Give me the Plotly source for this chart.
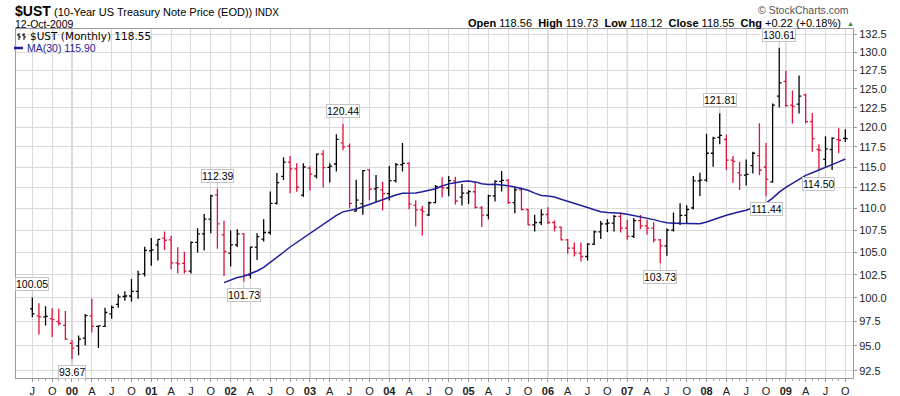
import math
import pandas as pd
import plotly.graph_objects as go

# ---------------- data (monthly OHLC, Jul 1999 .. Oct 2009) ----------------
start_month = "1999-07"
opens = [98.84, 98.10, 98.00, 97.80, 97.50, 97.10, 95.27, 95.00, 95.80, 98.10,
         97.00, 97.00, 98.30, 99.30, 100.15, 100.20, 100.70, 102.60, 105.15, 105.83,
         106.60, 106.40, 103.80, 103.75, 102.90, 106.10, 107.08, 108.77, 111.63, 106.97,
         104.89, 105.83, 107.08, 102.46, 105.57, 106.47, 107.23, 110.63, 113.85, 115.60,
         114.76, 111.60, 114.85, 113.90, 116.60, 114.96, 115.37, 118.00, 117.60, 109.70,
         110.60, 114.64, 112.35, 112.22, 111.77, 113.35, 115.30, 115.45, 110.38, 109.85,
         109.27, 110.70, 112.62, 112.45, 113.30, 111.35, 111.83, 112.00, 110.10, 109.23,
         111.50, 113.24, 113.37, 110.70, 112.22, 109.90, 108.10, 108.38, 109.31, 108.38,
         107.85, 106.40, 105.45, 104.89, 104.52, 105.90, 107.30, 108.22, 108.30, 109.10,
         107.73, 106.79, 108.60, 108.00, 107.73, 106.40, 105.70, 107.50, 108.30, 109.20,
         110.10, 113.30, 113.40, 116.70, 118.70, 118.43, 115.86, 114.30, 114.00, 115.16,
         116.40, 115.00, 113.20, 124.05, 126.00, 122.86, 122.99, 124.20, 120.70, 117.17,
         115.95, 117.17, 118.40, 118.56]
highs = [100.05, 99.44, 99.10, 98.90, 98.85, 98.60, 95.60, 96.05, 98.30, 99.93,
         97.10, 98.94, 99.20, 100.40, 100.70, 102.04, 102.95, 105.60, 106.60, 106.45,
         107.35, 106.85, 105.55, 105.05, 106.20, 107.73, 109.38, 111.63, 112.39, 108.58,
         107.46, 107.60, 107.15, 105.64, 107.15, 108.77, 112.02, 114.28, 116.20, 116.36,
         115.45, 115.45, 115.10, 116.68, 117.07, 115.45, 119.10, 120.44, 117.92, 113.43,
         114.64, 114.72, 114.03, 113.19, 115.12, 115.50, 117.99, 115.60, 111.00, 110.30,
         110.81, 112.82, 113.75, 113.91, 113.80, 112.94, 112.22, 113.20, 110.30, 111.63,
         113.37, 114.52, 113.50, 112.54, 112.54, 110.00, 109.27, 109.92, 110.16, 108.60,
         107.92, 106.50, 106.10, 106.10, 106.02, 107.46, 108.56, 108.76, 109.25, 109.55,
         108.69, 108.90, 109.25, 108.69, 108.40, 106.50, 107.70, 109.54, 110.63, 110.40,
         113.90, 114.30, 119.15, 118.77, 121.81, 119.07, 116.35, 115.66, 115.94, 116.90,
         120.50, 118.00, 123.08, 130.61, 127.45, 124.78, 126.80, 124.35, 121.83, 117.84,
         118.85, 118.70, 119.85, 119.73]
lows = [97.96, 96.17, 97.10, 95.90, 97.10, 95.60, 93.67, 94.05, 95.03, 96.37,
        94.80, 96.95, 97.80, 98.95, 99.70, 99.60, 99.90, 102.30, 103.50, 104.07,
        105.26, 103.10, 102.65, 102.65, 102.65, 104.96, 105.19, 107.15, 105.38, 102.36,
        103.40, 105.57, 101.73, 102.10, 104.14, 106.20, 106.97, 110.50, 113.40, 111.82,
        112.00, 111.40, 112.14, 113.60, 112.50, 113.10, 114.44, 117.09, 110.04, 109.65,
        109.27, 111.00, 110.81, 109.77, 110.95, 113.10, 114.44, 109.92, 107.92, 106.90,
        109.15, 110.62, 111.34, 111.45, 110.50, 110.36, 110.55, 110.00, 107.85, 108.75,
        110.83, 112.02, 110.55, 109.46, 109.80, 108.07, 107.35, 108.10, 108.22, 107.35,
        106.33, 104.82, 104.52, 103.96, 104.07, 105.80, 106.48, 107.30, 107.35, 107.24,
        106.40, 106.60, 107.60, 106.97, 106.10, 103.73, 104.60, 107.35, 108.10, 108.30,
        109.90, 111.50, 113.20, 115.04, 117.84, 114.64, 113.07, 112.22, 112.74, 114.20,
        114.00, 111.44, 113.07, 122.55, 122.63, 120.47, 121.77, 120.50, 116.90, 114.50,
        115.04, 114.63, 116.70, 118.12]
closes = [98.30, 98.00, 98.05, 97.70, 97.30, 95.70, 94.77, 95.70, 98.13, 97.02,
          97.05, 98.45, 99.00, 100.10, 100.20, 100.70, 102.55, 105.20, 105.25, 106.45,
          106.35, 103.80, 103.70, 102.90, 106.10, 107.08, 108.77, 111.51, 108.23, 105.08,
          105.83, 107.08, 102.46, 105.57, 106.77, 107.23, 110.63, 113.10, 115.60, 114.76,
          112.54, 115.00, 114.14, 116.60, 114.92, 115.12, 118.45, 117.50, 110.63, 111.00,
          114.56, 112.30, 112.50, 111.77, 113.35, 115.30, 115.45, 110.54, 109.85, 109.65,
          110.69, 112.62, 112.45, 113.35, 110.90, 111.83, 112.02, 110.15, 109.23, 111.51,
          113.24, 113.37, 110.70, 112.22, 109.90, 108.10, 108.38, 109.31, 108.38, 107.85,
          106.40, 105.45, 104.89, 104.52, 105.90, 107.30, 108.22, 108.30, 109.10, 107.73,
          106.79, 108.60, 108.00, 107.73, 106.40, 105.70, 107.50, 108.30, 109.20, 109.90,
          113.30, 113.40, 116.70, 118.60, 118.95, 115.86, 115.70, 114.00, 114.10, 116.70,
          114.60, 113.50, 122.86, 125.80, 122.80, 122.70, 124.05, 120.70, 118.55, 117.10,
          117.26, 118.56, 118.33, 118.55]
label_high_idx = [0, 28, 47, 104, 113]
label_low_idx = [6, 32, 95, 111, 119]
ytick_values = [92.5, 95.0, 97.5, 100.0, 102.5, 105.0, 107.5, 110.0, 112.5,
                115.0, 117.5, 120.0, 122.5, 125.0, 127.5, 130.0, 132.5]
quarter_letters = {4: "A", 7: "J", 10: "O"}

# ---------------- derived ----------------
months = pd.period_range(start_month, periods=len(closes), freq="M")
xi = list(range(len(closes)))
up = [True] + [closes[i] >= closes[i - 1] for i in range(1, len(closes))]
ma30 = pd.Series(closes).rolling(30).mean()

tickvals, ticktext, year_pos = [], [], []
for i, p in enumerate(months):
    if p.month in (1, 4, 7, 10):
        tickvals.append(i)
        if p.month == 1:
            ticktext.append(f"<b>{p.year % 100:02d}</b>")
            year_pos.append(i)
        else:
            ticktext.append(quarter_letters[p.month])

BLACK = "#000000"
RED = "#dc143c"
NAVY = "#1e1e9a"
FONT = "Liberation Sans, Arial, sans-serif"

fig = go.Figure()
for flag, col in ((True, BLACK), (False, RED)):
    idx = [i for i in xi if up[i] == flag]
    fig.add_trace(go.Ohlc(
        x=idx,
        open=[opens[i] for i in idx], high=[highs[i] for i in idx],
        low=[lows[i] for i in idx], close=[closes[i] for i in idx],
        increasing=dict(line=dict(color=col, width=1.3)),
        decreasing=dict(line=dict(color=col, width=1.3)),
        tickwidth=0.35, showlegend=False, hoverinfo="skip"))

fig.add_trace(go.Scatter(x=xi, y=ma30, mode="lines",
                         line=dict(color=NAVY, width=1.5),
                         showlegend=False, hoverinfo="skip"))

# plot-area pixel helpers (for header / legend text placement)
PL, PR, PT, PB = 16, 853, 29, 378
def px(x):
    return (x - PL) / (PR - PL)
def py(y):
    return (PB - y) / (PB - PT)

ann = []
def text(x, y, s, size=11, color="#000", family=FONT, anchor="left"):
    ann.append(dict(xref="paper", yref="paper", x=px(x), y=py(y), text=s,
                    showarrow=False, xanchor=anchor, yanchor="middle",
                    font=dict(size=size, color=color, family=family)))

text(13, 11, "<b>$UST</b>", size=14)
text(52, 12, "(10-Year US Treasury Note Price (EOD))", size=11)
text(253, 12, "INDX", size=10)
text(13, 24, "12-Oct-2009", size=10.5)
text(851, 10, "© StockCharts.com", size=10.5, color="#555", anchor="right")
text(843, 23, "<b>Open</b> 118.56&nbsp;&nbsp;<b>High</b> 119.73&nbsp;&nbsp;<b>Low</b> 118.12"
              "&nbsp;&nbsp;<b>Close</b> 118.55&nbsp;&nbsp;<b>Chg</b> +0.22 (+0.18%)",
     size=11, anchor="right")
text(850, 23, "▲", size=7, color="#2e8b2e", anchor="center")
text(28, 36, "$UST (Monthly) 118.55", size=10.5, family="DejaVu Sans, Verdana, sans-serif")
text(25, 48, "MA(30) 115.90", size=10.5, color=NAVY)

for idxs, above in ((label_high_idx, True), (label_low_idx, False)):
    for i in idxs:
        v = highs[i] if above else lows[i]
        ann.append(dict(x=i, y=math.log10(v), xref="x", yref="y",
                        text=f"{v:.2f}", showarrow=True, arrowhead=0,
                        arrowcolor="#c4c4c4", arrowwidth=1, ax=0,
                        ay=-13 if above else 13, standoff=0,
                        bgcolor="white", bordercolor="#c4c4c4", borderwidth=1,
                        borderpad=0, font=dict(size=10.5, color="#000", family=FONT)))

shapes = []
for yp in year_pos:
    shapes.append(dict(type="line", xref="x", yref="paper", x0=yp, x1=yp, y0=0, y1=1,
                       line=dict(color="#b4b4b4", width=1), layer="below"))
# legend icons
shapes.append(dict(type="line", xref="paper", yref="paper", x0=px(14), x1=px(23),
                   y0=py(48), y1=py(48), line=dict(color=NAVY, width=2.5)))
for bx in (19, 24):
    shapes.append(dict(type="line", xref="paper", yref="paper", x0=px(bx), x1=px(bx),
                       y0=py(33), y1=py(40), line=dict(color="#000", width=1)))
    shapes.append(dict(type="line", xref="paper", yref="paper", x0=px(bx - 2), x1=px(bx),
                       y0=py(35), y1=py(35), line=dict(color="#000", width=1)))
    shapes.append(dict(type="line", xref="paper", yref="paper", x0=px(bx), x1=px(bx + 2),
                       y0=py(37), y1=py(37), line=dict(color="#000", width=1)))

ylo, yhi = 91.8, 133.26
fig.update_layout(
    width=900, height=396,
    margin=dict(l=PL, r=900 - PR, t=PT, b=396 - PB, autoexpand=False),
    paper_bgcolor="white", plot_bgcolor="white",
    font=dict(family=FONT, size=11, color="#222"),
    annotations=ann, shapes=shapes, showlegend=False,
    xaxis=dict(range=[-2.47, 124.16], tickmode="array", tickvals=tickvals,
               ticktext=ticktext, showgrid=True, gridcolor="#dadada", gridwidth=1,
               zeroline=False, showline=True, linecolor="#9a9a9a", mirror=True,
               ticks="outside", ticklen=3, tickcolor="#999", automargin=False,
               tickfont=dict(size=11, color="#222"),
               minor=dict(tickmode="array", tickvals=xi, ticks="outside", ticklen=2,
                          tickcolor="#aaa", showgrid=False),
               rangeslider=dict(visible=False), fixedrange=True),
    yaxis=dict(type="log", range=[math.log10(ylo), math.log10(yhi)], side="right",
               tickmode="array", tickvals=ytick_values,
               ticktext=[f"{v:.1f}" for v in ytick_values], automargin=False,
               showgrid=True, gridcolor="#dadada", zeroline=False,
               showline=True, linecolor="#9a9a9a", mirror=True,
               ticks="outside", ticklen=3, tickcolor="#999", fixedrange=True,
               tickfont=dict(size=11, color="#222")),
)

fig.write_html("out.html",
               config={"displayModeBar": False, "staticPlot": True},
               post_script="document.body.style.margin='0px';")
